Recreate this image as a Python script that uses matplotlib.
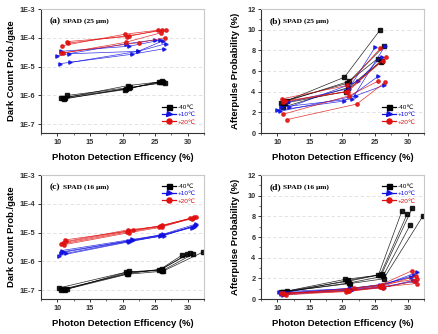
import numpy as np
import matplotlib
matplotlib.use("Agg")
import matplotlib.pyplot as plt
from matplotlib.ticker import LogLocator, FixedLocator, MultipleLocator, FuncFormatter
from matplotlib.lines import Line2D

plt.rcParams["font.family"] = ["Liberation Sans", "DejaVu Sans"]

temps = ["-40\u2103", "+10\u2103", "+20\u2103"]
colors = ["black", "#1010e0", "#e01010"]
markers = ["s", ">", "o"]

# (a) dark count, 25 um : per temperature, list of (pde, value) curves
a_x = [
    [[10.5, 20.6, 25.6], [10.8, 20.8, 25.9], [11.0, 21.0, 26.2], [11.5, 21.2, 26.5], [11.2, 20.4, 26.0]],
    [[10.0, 20.5, 25.0], [10.5, 21.0, 25.8], [11.8, 22.4, 26.7], [10.4, 21.5, 26.4], [12.0, 22.4, 26.2]],
    [[10.7, 20.4, 25.5], [11.5, 20.7, 26.0], [11.6, 21.0, 26.7], [10.8, 20.5, 25.9], [10.6, 22.5, 26.5]],
]
a_y = [
    [[8.3e-7, 1.7e-6, 3.0e-6], [8.0e-7, 2.2e-6, 3.0e-6], [7.5e-7, 1.8e-6, 2.9e-6], [1.0e-6, 1.9e-6, 2.8e-6], [8.0e-7, 1.6e-6, 3.1e-6]],
    [[2.4e-5, 6.2e-5, 8.5e-5], [3.4e-5, 5.1e-5, 8.3e-5], [2.8e-5, 3.4e-5, 6.3e-5], [1.27e-5, 2.7e-5, 4.2e-5], [1.4e-5, 3.4e-5, 7.9e-5]],
    [[5.3e-5, 1.34e-4, 1.85e-4], [7.4e-5, 1.1e-4, 1.9e-4], [6.5e-5, 1.2e-4, 1.9e-4], [2.9e-5, 7.0e-5, 1.5e-4], [3.0e-5, 6.8e-5, 1.0e-4]],
]

# (b) afterpulse, 25 um
b_x = [
    [[10.6, 20.3, 25.8], [11.0, 20.7, 26.4], [11.5, 21.0, 25.4], [10.9, 20.9, 26.0], [11.2, 20.5, 25.9]],
    [[11.6, 21.0, 25.0], [10.5, 21.5, 26.5], [11.8, 22.4, 26.0], [10.0, 20.3, 25.5], [10.4, 22.0, 26.3]],
    [[10.7, 20.7, 25.8], [11.2, 20.5, 26.2], [10.8, 20.8, 26.7], [10.8, 21.0, 25.4], [11.5, 22.2, 26.5]],
]
b_y = [
    [[2.9, 5.4, 10.0], [3.1, 4.8, 8.4], [3.1, 5.0, 7.2], [2.5, 4.4, 7.0], [2.9, 4.0, 6.9]],
    [[3.0, 4.3, 8.3], [2.5, 3.3, 8.4], [2.5, 5.0, 7.4], [2.2, 3.1, 5.5], [2.1, 3.6, 4.6]],
    [[3.3, 4.6, 8.2], [3.1, 4.0, 7.0], [3.0, 4.0, 7.4], [1.8, 3.6, 5.0], [1.3, 2.8, 4.9]],
]

# (c) dark count, 16 um
c_x = [
    [[10.2, 20.6, 25.6, 29.2], [10.5, 20.8, 25.9, 29.9], [10.8, 20.9, 26.0, 30.3], [11.2, 21.0, 26.1, 30.8], [11.5, 20.7, 26.2, 32.3]],
    [[10.3, 21.0, 25.7, 30.6], [10.5, 21.2, 25.9, 30.9], [10.7, 21.4, 26.0, 31.1], [10.9, 21.6, 26.2, 31.3], [11.3, 20.9, 26.3, 31.2]],
    [[10.6, 20.7, 25.6, 30.6], [10.9, 20.9, 25.8, 30.8], [11.0, 21.0, 26.0, 31.0], [11.2, 21.6, 26.1, 31.2], [11.4, 20.8, 25.9, 30.4]],
]
c_y = [
    [[1.2e-7, 4.3e-7, 5.0e-7, 1.7e-6], [1.0e-7, 4.0e-7, 5.2e-7, 1.8e-6], [1.1e-7, 3.8e-7, 5.5e-7, 1.9e-6], [1.05e-7, 4.5e-7, 4.8e-7, 1.8e-6], [1.1e-7, 3.6e-7, 4.6e-7, 2.1e-6]],
    [[1.6e-6, 4.8e-6, 7.5e-6, 1.5e-5], [2.0e-6, 5.3e-6, 8.0e-6, 1.6e-5], [2.4e-6, 5.8e-6, 8.3e-6, 1.7e-5], [2.2e-6, 5.5e-6, 8.8e-6, 2.0e-5], [1.9e-6, 5.0e-6, 7.8e-6, 1.8e-5]],
    [[4.0e-6, 1.05e-5, 1.6e-5, 3.0e-5], [4.5e-6, 1.15e-5, 1.7e-5, 3.3e-5], [3.8e-6, 1.0e-5, 1.55e-5, 3.4e-5], [5.6e-6, 1.2e-5, 1.8e-5, 3.5e-5], [5.0e-6, 1.25e-5, 1.65e-5, 3.1e-5]],
]

# (d) afterpulse, 16 um
d_x = [
    [[10.5, 20.4, 25.5, 29.1], [10.8, 20.7, 25.8, 29.9], [11.0, 20.9, 26.0, 30.7], [11.2, 21.0, 26.2, 30.4], [11.5, 21.2, 26.3, 32.3]],
    [[10.3, 21.0, 25.8, 30.5], [10.5, 21.2, 26.0, 31.0], [10.7, 21.3, 26.1, 31.5], [10.9, 21.5, 26.2, 31.2], [11.2, 20.9, 26.3, 30.8]],
    [[10.6, 20.6, 25.6, 30.7], [10.9, 20.8, 25.9, 31.2], [11.1, 21.8, 26.0, 31.5], [11.3, 21.0, 26.2, 31.0], [10.8, 20.5, 25.8, 31.4]],
]
d_y = [
    [[0.65, 1.9, 2.3, 8.5], [0.7, 1.7, 2.35, 8.2], [0.6, 1.8, 2.4, 8.8], [0.7, 1.55, 2.2, 7.2], [0.75, 1.5, 1.95, 8.0]],
    [[0.7, 1.0, 1.4, 2.1], [0.5, 1.05, 1.35, 2.3], [0.6, 0.95, 1.3, 2.6], [0.4, 0.9, 1.2, 1.7], [0.55, 0.85, 1.1, 1.8]],
    [[0.55, 0.9, 1.3, 2.75], [0.5, 0.8, 1.2, 2.2], [0.45, 1.05, 1.4, 1.95], [0.4, 0.75, 1.1, 1.75], [0.6, 0.7, 1.15, 1.5]],
]

W, H = 439, 334
fig = plt.figure(figsize=(W / 100, H / 100), dpi=100)


def px_axes(l, t, r, b):
    return fig.add_axes([l / W, 1 - b / H, (r - l) / W, (b - t) / H])


def style(ax, log):
    for s in ["top", "right"]:
        ax.spines[s].set_color("#c8c8c8")
    for s in ["left", "bottom"]:
        ax.spines[s].set_color("#333333")
    for s in ax.spines.values():
        s.set_linewidth(0.8)
    ax.set_xlim(7.5, 32.5)
    ax.xaxis.set_major_locator(FixedLocator([10, 15, 20, 25, 30]))
    ax.xaxis.set_minor_locator(MultipleLocator(2.5))
    if log:
        ax.set_yscale("log")
        ax.set_ylim(5e-8, 1e-3)
        ax.yaxis.set_major_locator(LogLocator(base=10, numticks=10))
        ax.yaxis.set_minor_locator(plt.NullLocator())
        ax.yaxis.set_major_formatter(FuncFormatter(lambda v, p: "1E%d" % round(np.log10(v))))
        ax.set_ylabel("Dark Count Prob./gate", fontsize=6.8, fontweight="bold", labelpad=3)
    else:
        ax.set_ylim(0, 12)
        ax.yaxis.set_major_locator(MultipleLocator(2))
        ax.yaxis.set_minor_locator(MultipleLocator(1))
        ax.set_ylabel("Afterpulse Probability (%)", fontsize=6.8, fontweight="bold", labelpad=5)
    ax.grid(axis="y", which="major", linestyle=(0, (4, 3)), color="#dddddd", linewidth=0.6)
    ax.tick_params(which="both", direction="out", labelsize=5.3, pad=1.5, colors="#333333")
    ax.tick_params(which="major", length=2.5, width=0.7)
    ax.tick_params(which="minor", length=1.5, width=0.5)
    for lab in ax.get_xticklabels() + ax.get_yticklabels():
        lab.set_fontweight("bold")
    ax.set_xlabel("Photon Detection Efficency (%)", fontsize=6.8, fontweight="bold", labelpad=5)


def draw(ax, xs, ys, tag, size, legend_loc):
    for k in range(3):
        for x, y in zip(xs[k], ys[k]):
            ax.plot(x, y, color=colors[k], marker=markers[k], ms=2.4, lw=0.5, alpha=0.85)
    ax.text(0.05, 0.935, tag, transform=ax.transAxes, fontsize=6.8, fontweight="bold",
            family="Liberation Serif", va="top")
    ax.text(0.138, 0.925, "SPAD (%s \u03bcm)" % size, transform=ax.transAxes, fontsize=5.4,
            fontweight="bold", family=["Liberation Serif", "DejaVu Serif"], va="top")
    handles = [Line2D([], [], color=colors[k], marker=markers[k], ms=3.6, lw=0.9) for k in range(3)]
    leg = ax.legend(handles, temps, loc=legend_loc, frameon=False, fontsize=4.6,
                    handlelength=2.2, handletextpad=0.2, labelspacing=0.3, borderaxespad=0.9)
    for k, t in enumerate(leg.get_texts()):
        t.set_color(colors[k])


ax_a = px_axes(41, 9, 204, 133)
style(ax_a, True)
draw(ax_a, a_x, a_y, "(a)", "25", "lower right")

ax_b = px_axes(261, 9, 424, 133)
style(ax_b, False)
draw(ax_b, b_x, b_y, "(b)", "25", "lower right")

ax_c = px_axes(41, 175, 204, 299)
style(ax_c, True)
draw(ax_c, c_x, c_y, "(c)", "16", "upper right")

ax_d = px_axes(261, 175, 424, 299)
style(ax_d, False)
draw(ax_d, d_x, d_y, "(d)", "16", "upper right")

fig.savefig("out.png", dpi=100)
